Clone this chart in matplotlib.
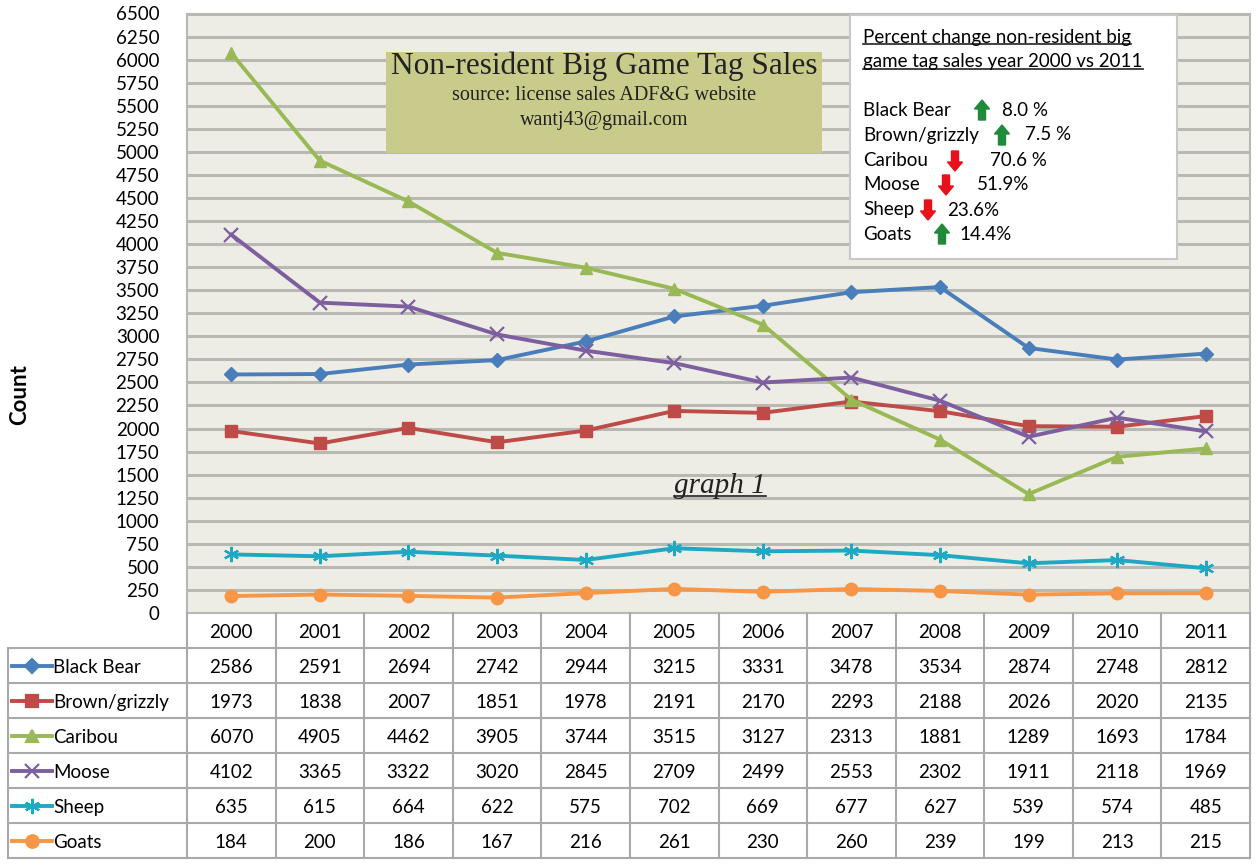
import matplotlib
matplotlib.use('Agg')
import matplotlib.pyplot as plt
import numpy as np
from matplotlib.patches import FancyArrow, Rectangle
from matplotlib.lines import Line2D

W, H = 1257, 867

years = ['2000', '2001', '2002', '2003', '2004', '2005', '2006', '2007', '2008', '2009', '2010', '2011']
species = ['Black Bear', 'Brown/grizzly', 'Caribou', 'Moose', 'Sheep', 'Goats']
black_bear = [2586, 2591, 2694, 2742, 2944, 3215, 3331, 3478, 3534, 2874, 2748, 2812]
brown_grizzly = [1973, 1838, 2007, 1851, 1978, 2191, 2170, 2293, 2188, 2026, 2020, 2135]
caribou = [6070, 4905, 4462, 3905, 3744, 3515, 3127, 2313, 1881, 1289, 1693, 1784]
moose = [4102, 3365, 3322, 3020, 2845, 2709, 2499, 2553, 2302, 1911, 2118, 1969]
sheep = [635, 615, 664, 622, 575, 702, 669, 677, 627, 539, 574, 485]
goats = [184, 200, 186, 167, 216, 261, 230, 260, 239, 199, 213, 215]
series = [black_bear, brown_grizzly, caribou, moose, sheep, goats]

change_labels = ['Black Bear', 'Brown/grizzly', 'Caribou', 'Moose', 'Sheep', 'Goats']
change_text = ['8.0 %', '7.5 %', '70.6 %', '51.9%', '23.6%', '14.4%']
change_up = [True, True, False, False, False, True]

colors = ['#4a7ebb', '#be4b48', '#98b954', '#7d5fa0', '#1fa8c4', '#f79646']
markers = ['D', 's', '^', 'x', (6, 2, 0), 'o']
msizes = [7, 8, 9, 10, 11, 9]

SANS = ['Lato', 'DejaVu Sans']
SERIF = ['Liberation Serif', 'DejaVu Serif']
plt.rcParams['font.family'] = SANS
FS = 13.5


def fx(px):
    return px / W


def fy(py):
    return 1 - py / H


fig = plt.figure(figsize=(W / 100, H / 100), dpi=100)
fig.patch.set_facecolor('white')

# main plot area
L, R, T, B = 187, 1250, 13.5, 613
ax = fig.add_axes([fx(L), fy(B), fx(R - L), (B - T) / H])
ax.set_facecolor('#eeede5')
x = np.arange(len(years))
for vals, c, m, ms in zip(series, colors, markers, msizes):
    ax.plot(x, vals, color=c, lw=2.8, marker=m, ms=ms, mec=c, mew=1.6 if m in ('x', (6, 2, 0)) else 1,
            mfc=c, zorder=3)
ax.set_xlim(-0.5, len(years) - 0.5)
ax.set_ylim(0, 6500)
ax.set_yticks(np.arange(0, 6501, 250))
ax.set_yticklabels([str(v) for v in range(0, 6501, 250)], fontsize=FS)
ax.tick_params(axis='y', length=0, pad=20)
ax.set_xticks([])
ax.grid(axis='y', color='#b9b9b4', lw=2.2, zorder=1)
for s in ax.spines.values():
    s.set_color('#b9b9b4')
    s.set_linewidth(1.5)

fig.text(fx(20), fy(395), 'Count', rotation=90, ha='center', va='center', fontsize=16, fontweight='bold')

# title box
fig.add_artist(Rectangle((fx(386), fy(153)), fx(822 - 386), (153 - 52) / H,
                         transform=fig.transFigure, facecolor='#c9cb8a', edgecolor='none', zorder=5))
fig.text(fx(604), fy(66), 'Non-resident Big Game Tag Sales', ha='center', va='center',
         fontsize=22.5, family=SERIF, color='#222222', zorder=6)
fig.text(fx(604), fy(95), 'source: license sales ADF&G website', ha='center', va='center',
         fontsize=14.5, family=SERIF, color='#222222', zorder=6)
fig.text(fx(604), fy(120), 'wantj43@gmail.com', ha='center', va='center',
         fontsize=14.5, family=SERIF, color='#222222', zorder=6)

# graph 1 label
g1 = fig.text(fx(720), fy(486), 'graph 1', ha='center', va='center', fontsize=21,
              family=SERIF, style='italic', color='#222222')

# inset box with percent change
fig.add_artist(Rectangle((fx(850), fy(259)), fx(1177 - 850), (259 - 15) / H,
                         transform=fig.transFigure, facecolor='white', edgecolor='#c8c8c8',
                         lw=1.5, zorder=5))
h1 = fig.text(fx(863), fy(37), 'Percent change non-resident big', ha='left', va='center',
              fontsize=FS, zorder=6)
h2 = fig.text(fx(863), fy(62), 'game tag sales year 2000 vs 2011', ha='left', va='center',
              fontsize=FS, zorder=6)
row_y = [110, 135, 161, 185, 210, 234]
arrow_x = [982, 1002, 955, 946, 928, 942]
pct_x = [1002, 1025, 990, 977, 947, 959]
for lab, txt, up, yy, axp, pxp in zip(change_labels, change_text, change_up, row_y, arrow_x, pct_x):
    fig.text(fx(863), fy(yy), lab, ha='left', va='center', fontsize=FS, zorder=6)
    fig.text(fx(pxp), fy(yy), txt, ha='left', va='center', fontsize=FS, zorder=6)
    if up:
        y0, dy, col = yy + 10, -20, '#1f8a3a'
    else:
        y0, dy, col = yy - 10, 20, '#e8101a'
    fig.add_artist(FancyArrow(fx(axp), fy(y0), 0, -dy / H, width=fx(7), head_width=fx(15),
                              head_length=9 / H, length_includes_head=True,
                              transform=fig.transFigure, color=col, zorder=7))

# data table
ax_t = fig.add_axes([fx(L), fy(858), fx(R - L), (858 - B) / H])
ax_t.set_xlim(-0.5, len(years) - 0.5)
ax_t.set_ylim(len(species) + 1, 0)
ax_t.axis('off')
col_w = (R - L) / len(years)
x_left = -0.5 - (L - 8) / col_w
grid_kw = dict(color='#a9a9a9', lw=1.5, clip_on=False)
for k in range(len(years) + 1):
    ax_t.plot([k - 0.5, k - 0.5], [0, len(species) + 1], **grid_kw)
for r in range(1, len(species) + 2):
    ax_t.plot([x_left, len(years) - 0.5], [r, r], **grid_kw)
ax_t.plot([x_left, x_left], [1, len(species) + 1], **grid_kw)
for i, yr in enumerate(years):
    ax_t.text(i, 0.55, yr, ha='center', va='center', fontsize=FS)
key_l = -0.5 - (L - 12) / col_w
key_r = -0.5 - (L - 52) / col_w
for r, (name, vals, c, m, ms) in enumerate(zip(species, series, colors, markers, msizes), start=1):
    ax_t.plot([key_l, key_r], [r + 0.5, r + 0.5], color=c, lw=2.8, clip_on=False)
    ax_t.plot([(key_l + key_r) / 2], [r + 0.5], marker=m, ms=ms, color=c, mew=1.6, clip_on=False)
    ax_t.text(key_r + 0.01, r + 0.55, name, ha='left', va='center', fontsize=FS)
    for i, v in enumerate(vals):
        ax_t.text(i, r + 0.55, str(v), ha='center', va='center', fontsize=FS)

# underlines
fig.canvas.draw()
rend = fig.canvas.get_renderer()
for t, off, z in [(h1, 2, 6), (h2, 2, 6), (g1, 3, 6)]:
    bb = t.get_window_extent(rend).transformed(fig.transFigure.inverted())
    fig.add_artist(Line2D([bb.x0, bb.x1], [bb.y0 + off / H, bb.y0 + off / H], color='#222222',
                          lw=1.2, transform=fig.transFigure, zorder=z))

fig.savefig('out.png', dpi=100)
